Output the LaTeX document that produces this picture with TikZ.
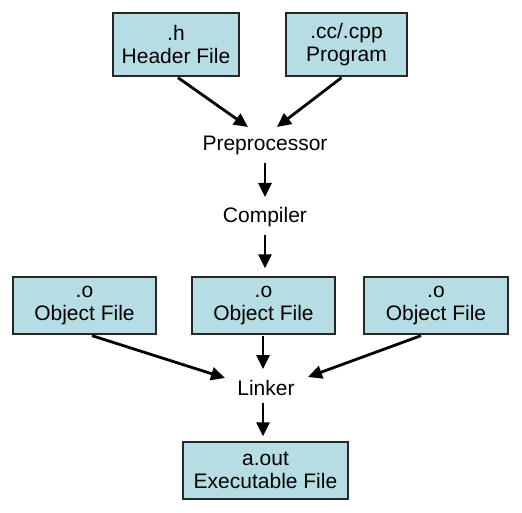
\documentclass[tikz,border=0pt]{standalone}
\usepackage{fontspec}
\setmainfont{Liberation Sans}
\usetikzlibrary{arrows.meta,calc}
\definecolor{boxfill}{RGB}{183,221,228}
\begin{document}
\begin{tikzpicture}[x=1pt,y=-1pt,
  box/.style={draw=black!85,line width=1.3pt,fill=boxfill,align=center,inner sep=0pt,
    font=\fontsize{21}{23}\selectfont},
  lbl/.style={inner sep=0pt,font=\fontsize{21}{23}\selectfont},
  arr/.style={line width=2.8pt,-{Triangle[length=14pt,width=13pt]}}]
\useasboundingbox (0,0) rectangle (522,513);
\fill[white] (0,0) rectangle (522,513);
\node[box,minimum width=126,minimum height=63] (hdr) at (176,44.5) {.h\\Header File};
\node[box,minimum width=121,minimum height=63] (prog) at (346.5,44.5) {.cc/.cpp\\Program};
\node[lbl] (pre) at (265,145) {Preprocessor};
\node[lbl] (comp) at (265,217) {Compiler};
\node[box,minimum width=143,minimum height=57] (objL) at (84.5,305.5) {.o\\Object File};
\node[box,minimum width=143,minimum height=57] (objM) at (263.5,305.5) {.o\\Object File};
\node[box,minimum width=144,minimum height=57] (objR) at (436,305.5) {.o\\Object File};
\node[lbl] (lnk) at (266,388) {Linker};
\node[box,minimum width=165,minimum height=57] (exe) at (265.5,470.5) {a.out\\Executable File};
\draw[arr] ($(hdr.south)+(2,1)$) -- ($(pre)+(-17,-18)$);
\draw[arr] ($(prog.south)+(-5,1)$) -- ($(pre)+(12,-18)$);
\draw[arr] ($(pre)+(0,18)$) -- ($(comp)+(0,-20)$);
\draw[arr] ($(comp)+(0,18)$) -- ($(objM.north)+(1.5,-8)$);
\draw[arr] ($(objL.south)+(7.5,1)$) -- ($(lnk)+(-41,-10)$);
\draw[arr] ($(objM.south)+(-0.5,1)$) -- ($(lnk)+(-3,-19)$);
\draw[arr] ($(objR.south)+(-15,1)$) -- ($(lnk)+(42,-11)$);
\draw[arr] ($(lnk)+(-3,15)$) -- ($(exe.north)+(-2.5,-5)$);
\end{tikzpicture}
\end{document}
